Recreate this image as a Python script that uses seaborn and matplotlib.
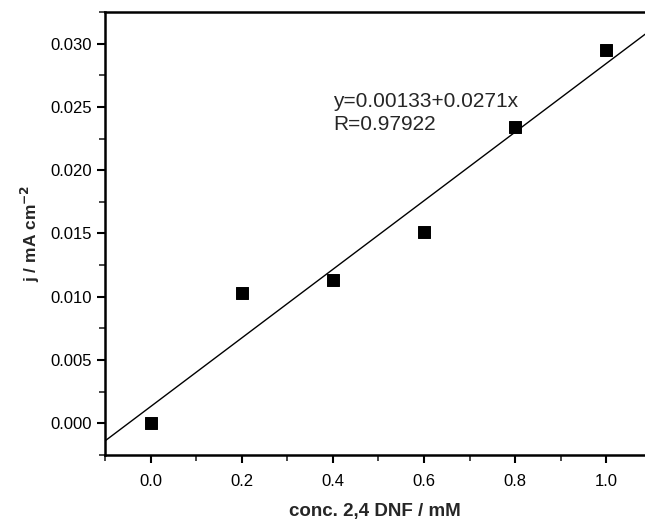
import numpy as np
import pandas as pd
import seaborn as sns
import matplotlib.pyplot as plt
from matplotlib.ticker import MultipleLocator

# measured points
conc = [0.0, 0.2, 0.4, 0.6, 0.8, 1.0]
j = [0.0000, 0.0103, 0.0113, 0.0151, 0.0234, 0.0295]

# linear fit reported on the chart
intercept = 0.00133
slope = 0.0271
fit_text = ["y=0.00133+0.0271x", "R=0.97922"]

sns.set_style('ticks')
plt.rcParams['font.family'] = ['Liberation Sans', 'DejaVu Sans']

df = pd.DataFrame({'conc': conc, 'j': j})
fit_x = np.array([-0.1, 1.1])
fit_df = pd.DataFrame({'conc': fit_x, 'j': intercept + slope * fit_x})

fig = plt.figure(figsize=(6.45, 5.2), dpi=100)
ax = fig.add_axes([0.163, 0.125, 0.837, 0.852])

sns.lineplot(data=fit_df, x='conc', y='j', color='black', linewidth=1.0, ax=ax)
sns.scatterplot(data=df, x='conc', y='j', marker='s', s=75, color='black',
                edgecolor='black', zorder=3, ax=ax)

ax.set_xlim(-0.1, 1.085)
ax.set_ylim(-0.0025, 0.0325)
ax.xaxis.set_major_locator(MultipleLocator(0.2))
ax.xaxis.set_minor_locator(MultipleLocator(0.1))
ax.yaxis.set_major_locator(MultipleLocator(0.005))
ax.yaxis.set_minor_locator(MultipleLocator(0.0025))
ax.xaxis.set_major_formatter(plt.FuncFormatter(lambda v, p: f"{v:.1f}"))
ax.yaxis.set_major_formatter(plt.FuncFormatter(lambda v, p: f"{v:.3f}"))

for side in ['left', 'bottom', 'top']:
    ax.spines[side].set_linewidth(1.8)
    ax.spines[side].set_color('black')
ax.spines['right'].set_visible(False)

ax.tick_params(which='major', direction='out', length=6, width=1.5, labelsize=12, colors='black')
ax.tick_params(axis='x', which='major', pad=8)
ax.tick_params(which='minor', direction='out', length=4, width=1.2)

ax.set_xlabel("conc. 2,4 DNF / mM", fontsize=13.5, fontweight='bold', labelpad=10)
ax.set_ylabel("j / mA cm$^{\\mathbf{-2}}$", fontsize=12.5, fontweight='bold', labelpad=6)

ax.text(0.40, 0.0250, fit_text[0], fontsize=15)
ax.text(0.40, 0.0232, fit_text[1], fontsize=15)

fig.savefig('out.png', dpi=100)
